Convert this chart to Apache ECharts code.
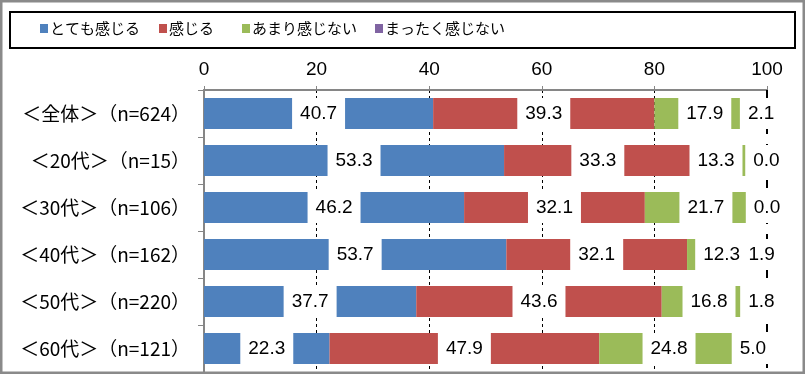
<!DOCTYPE html>
<html><head><meta charset="utf-8">
<script src="https://cdn.jsdelivr.net/npm/echarts@6/dist/echarts.min.js"></script>
<style>html,body{margin:0;padding:0;background:#fff}#c{width:805px;height:374px}</style>
</head><body><div id="c"></div>
<script>
const categories = ['＜全体＞（n=624）','＜20代＞（n=15）','＜30代＞（n=106）','＜40代＞（n=162）','＜50代＞（n=220）','＜60代＞（n=121）'];
const seriesNames = ['とても感じる','感じる','あまり感じない','まったく感じない'];
const veryFeel = [40.7, 53.3, 46.2, 53.7, 37.7, 22.3];
const feel = [39.3, 33.3, 32.1, 32.1, 43.6, 47.9];
const notMuch = [17.9, 13.3, 21.7, 12.3, 16.8, 24.8];
const notAtAll = [2.1, 0.0, 0.0, 1.9, 1.8, 5.0];
const tickValues = [0, 20, 40, 60, 80, 100];

const colors = ['#4F81BD','#C0504D','#9BBB59','#8064A2'];
const values = [veryFeel, feel, notMuch, notAtAll];
const legendLeft = [40, 159, 242, 375];
// manual label nudges seen in the reference: [seriesIndex, categoryIndex, dx]
const labelNudges = [[2, 1, -13]];

const chart = echarts.init(document.getElementById('c'));
const series = values.map((v, i) => ({
  name: seriesNames[i], type: 'bar', stack: 'all', barWidth: '66%',
  data: v.map((val, j) => {
    const n = labelNudges.find(d => d[0] === i && d[1] === j);
    return n ? {value: val, label: {offset: [n[2], 0]}} : val;
  }),
  itemStyle: {color: colors[i]},
  label: {
    show: true, position: 'inside', formatter: p => Number(p.value).toFixed(1),
    color: '#000', fontFamily: '"Liberation Sans", Arial, sans-serif', fontSize: 19,
    lineHeight: 19, backgroundColor: '#fff', padding: [6, 8]
  }
}));
series.push({
  type: 'line', data: [], z: 1, silent: true,
  markLine: {silent: true, z: 1, symbol: 'none', label: {show: false},
    lineStyle: {color: '#000', width: 2, type: [8, 10]},
    data: [{xAxis: tickValues[tickValues.length - 1]}]}
});
chart.setOption({
  animation: false,
  graphic: [
    {type: 'rect', shape: {x: 1, y: 1, width: 803, height: 372}, style: {fill: 'none', stroke: '#8a8a8a', lineWidth: 3}, z: 100},
    {type: 'rect', shape: {x: 10, y: 12, width: 785, height: 36}, style: {fill: '#fff', stroke: '#000', lineWidth: 2}, z: -1}
  ],
  legend: seriesNames.map((n, i) => ({
    data: [n], left: legendLeft[i], top: 21, icon: 'rect', itemWidth: 8, itemHeight: 9, itemGap: 0,
    padding: 0, selectedMode: false,
    textStyle: {fontFamily: '"Noto Sans CJK JP", sans-serif', fontSize: 15, color: '#000', padding: [0, 0, 0, -3]}
  })),
  grid: {left: 204, right: 38, top: 90, bottom: 2, containLabel: false},
  xAxis: {
    type: 'value', position: 'top', min: 0, max: 100, interval: 20,
    axisLine: {show: true, lineStyle: {color: '#868686', width: 2}},
    axisTick: {show: true, length: 4, lineStyle: {color: '#868686', width: 1}},
    axisLabel: {color: '#000', fontFamily: '"Liberation Sans", Arial, sans-serif', fontSize: 19, margin: 11,
      formatter: v => tickValues.includes(v) ? String(v) : ''},
    splitLine: {show: true, showMinLine: false, showMaxLine: false, lineStyle: {color: '#000', width: 1, type: [3, 3]}}
  },
  yAxis: {
    type: 'category', data: categories, inverse: true,
    axisLine: {show: true, lineStyle: {color: '#868686', width: 2}},
    axisTick: {show: true, length: 6, lineStyle: {color: '#868686', width: 1}},
    axisLabel: {color: '#000', fontFamily: '"Noto Sans CJK JP", sans-serif', fontSize: 19, margin: 14}
  },
  series: series
});
</script></body></html>
